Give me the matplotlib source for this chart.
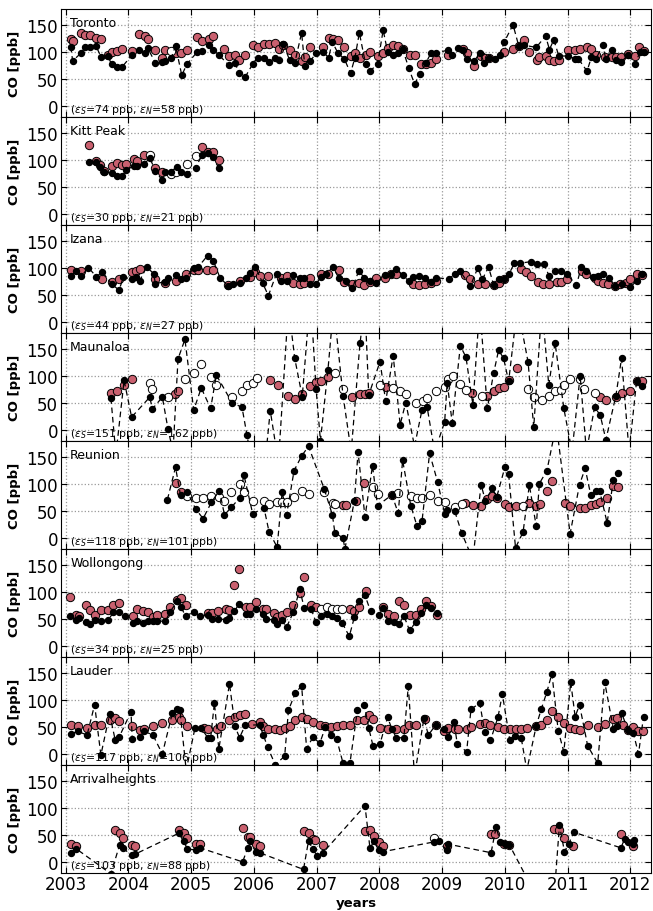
import matplotlib
matplotlib.use('Agg')
import matplotlib.pyplot as plt

plt.rcParams.update({'font.size': 12, 'font.family': 'DejaVu Sans',
                     'xtick.direction': 'in', 'ytick.direction': 'in',
                     'xtick.top': True, 'ytick.right': True,
                     'mathtext.fontset': 'dejavusans'})

# (year, CO ppb)
# black = dashed series, pink = filled circles, white = open circles
toronto_black = [(2003.08, 110), (2003.11, 84), (2003.24, 98), (2003.31, 109), (2003.38, 109), (2003.48, 112),
                 (2003.56, 92), (2003.67, 93), (2003.73, 78), (2003.81, 73), (2003.90, 73), (2004.05, 94),
                 (2004.17, 104), (2004.26, 99), (2004.31, 107), (2004.43, 80), (2004.53, 81), (2004.59, 84),
                 (2004.68, 89), (2004.75, 112), (2004.85, 57), (2004.93, 78), (2005.10, 101), (2005.17, 103),
                 (2005.28, 114), (2005.35, 104), (2005.44, 95), (2005.60, 76), (2005.70, 80), (2005.76, 61),
                 (2005.86, 54), (2005.98, 78), (2006.06, 90), (2006.16, 90), (2006.24, 81), (2006.33, 89),
                 (2006.40, 85), (2006.47, 115), (2006.57, 85), (2006.65, 80), (2006.76, 136), (2006.81, 75),
                 (2006.90, 84), (2006.99, 98), (2007.10, 101), (2007.19, 90), (2007.25, 119), (2007.34, 98),
                 (2007.44, 88), (2007.54, 61), (2007.61, 90), (2007.68, 136), (2007.78, 78), (2007.85, 65),
                 (2007.97, 78), (2008.06, 141), (2008.13, 101), (2008.22, 95), (2008.30, 98), (2008.37, 106),
                 (2008.47, 70), (2008.56, 41), (2008.65, 60), (2008.74, 80), (2008.82, 98), (2008.90, 98),
                 (2009.09, 104), (2009.16, 94), (2009.26, 107), (2009.33, 104), (2009.39, 88), (2009.51, 84),
                 (2009.61, 99), (2009.67, 80), (2009.74, 89), (2009.84, 87), (2009.92, 95), (2009.99, 119),
                 (2010.13, 151), (2010.22, 112), (2010.30, 113), (2010.50, 109), (2010.65, 130), (2010.71, 105),
                 (2010.78, 123), (2010.86, 93), (2011.00, 93), (2011.12, 88), (2011.17, 88), (2011.31, 65),
                 (2011.38, 91), (2011.45, 87), (2011.56, 113), (2011.61, 87), (2011.70, 105), (2011.77, 85),
                 (2011.85, 81), (2011.96, 95), (2012.08, 78), (2012.15, 100), (2012.21, 101)]
toronto_pink = [(2003.08, 124), (2003.12, 121), (2003.24, 135), (2003.31, 132), (2003.38, 132), (2003.48, 127),
                (2003.56, 124), (2003.68, 94), (2003.74, 100), (2003.81, 102), (2003.90, 106), (2004.05, 103),
                (2004.17, 133), (2004.26, 130), (2004.31, 125), (2004.43, 104), (2004.54, 90), (2004.59, 104),
                (2004.75, 98), (2004.84, 99), (2004.93, 105), (2005.10, 128), (2005.17, 120), (2005.28, 124),
                (2005.35, 130), (2005.53, 106), (2005.60, 93), (2005.70, 94), (2005.76, 86), (2005.86, 95),
                (2005.98, 114), (2006.06, 110), (2006.16, 115), (2006.24, 115), (2006.33, 117), (2006.40, 106),
                (2006.47, 114), (2006.57, 104), (2006.65, 95), (2006.76, 83), (2006.81, 92), (2006.90, 110),
                (2007.10, 110), (2007.19, 127), (2007.26, 125), (2007.34, 123), (2007.44, 109), (2007.54, 93),
                (2007.61, 99), (2007.69, 90), (2007.78, 94), (2007.85, 101), (2007.97, 93), (2008.05, 99),
                (2008.13, 108), (2008.22, 113), (2008.30, 111), (2008.37, 106), (2008.48, 94), (2008.56, 94),
                (2008.66, 78), (2008.74, 79), (2008.82, 80), (2008.90, 88), (2009.09, 94), (2009.33, 106),
                (2009.39, 98), (2009.51, 75), (2009.62, 93), (2009.69, 90), (2009.74, 89), (2009.99, 101),
                (2010.13, 106), (2010.22, 112), (2010.30, 122), (2010.38, 101), (2010.51, 86), (2010.54, 91),
                (2010.65, 93), (2010.71, 85), (2010.78, 83), (2010.86, 86), (2011.00, 104), (2011.12, 104),
                (2011.19, 106), (2011.31, 110), (2011.38, 106), (2011.45, 95), (2011.59, 91), (2011.70, 91),
                (2011.77, 91), (2011.85, 92), (2011.96, 96), (2012.07, 93), (2012.14, 110), (2012.21, 103)]
toronto_white = [(2004.68, 103)]

kittpeak_black = [(2003.37, 96), (2003.48, 96), (2003.54, 88), (2003.61, 79), (2003.74, 76), (2003.82, 70),
                  (2003.90, 70), (2003.96, 81), (2004.09, 90), (2004.14, 90), (2004.25, 93), (2004.34, 104),
                  (2004.43, 80), (2004.53, 64), (2004.59, 78), (2004.68, 78), (2004.77, 88), (2004.84, 78),
                  (2004.93, 75), (2005.07, 86), (2005.17, 109), (2005.27, 114), (2005.34, 105), (2005.44, 86)]
kittpeak_pink = [(2003.37, 128), (2003.49, 99), (2003.54, 91), (2003.61, 80), (2003.74, 90), (2003.82, 94),
                 (2003.90, 91), (2003.96, 93), (2004.09, 102), (2004.14, 98), (2004.25, 110), (2004.43, 86),
                 (2004.54, 79), (2005.17, 125), (2005.27, 116), (2005.34, 115), (2005.44, 100)]
kittpeak_white = [(2004.34, 110), (2004.68, 74), (2004.75, 78), (2004.93, 93), (2005.07, 108)]

izana_black = [(2003.08, 85), (2003.17, 95), (2003.25, 85), (2003.36, 101), (2003.49, 84), (2003.58, 93),
               (2003.74, 70), (2003.85, 59), (2003.92, 84), (2004.05, 79), (2004.12, 84), (2004.18, 77),
               (2004.29, 102), (2004.40, 90), (2004.43, 71), (2004.58, 75), (2004.63, 81), (2004.75, 88),
               (2004.84, 80), (2004.91, 82), (2005.05, 101), (2005.11, 102), (2005.26, 123), (2005.35, 114),
               (2005.46, 82), (2005.59, 67), (2005.67, 70), (2005.77, 73), (2005.88, 82), (2005.93, 91),
               (2006.02, 103), (2006.14, 72), (2006.23, 49), (2006.36, 90), (2006.43, 76), (2006.52, 76),
               (2006.62, 87), (2006.73, 82), (2006.80, 82), (2006.89, 70), (2006.99, 70), (2007.07, 84),
               (2007.15, 89), (2007.26, 102), (2007.35, 82), (2007.46, 76), (2007.57, 63), (2007.67, 95),
               (2007.76, 82), (2007.85, 76), (2007.95, 73), (2008.09, 87), (2008.18, 90), (2008.27, 98),
               (2008.37, 87), (2008.47, 76), (2008.54, 84), (2008.63, 85), (2008.73, 82), (2008.82, 75),
               (2008.91, 82), (2009.11, 80), (2009.20, 89), (2009.28, 95), (2009.45, 67), (2009.57, 101),
               (2009.64, 79), (2009.74, 102), (2009.82, 69), (2009.90, 79), (2009.98, 79), (2010.07, 90),
               (2010.15, 109), (2010.24, 109), (2010.41, 112), (2010.51, 107), (2010.62, 107), (2010.71, 85),
               (2010.80, 95), (2010.89, 95), (2010.99, 89), (2011.14, 68), (2011.22, 103), (2011.30, 95),
               (2011.40, 84), (2011.49, 85), (2011.56, 90), (2011.66, 82), (2011.76, 67), (2011.86, 71),
               (2012.00, 65), (2012.10, 76), (2012.19, 89)]
izana_pink = [(2003.08, 96), (2003.25, 95), (2003.58, 79), (2003.74, 74), (2003.85, 79), (2004.05, 93),
              (2004.12, 95), (2004.18, 99), (2004.43, 80), (2004.58, 73), (2004.75, 76), (2004.91, 90),
              (2005.05, 96), (2005.11, 96), (2005.25, 96), (2005.35, 96), (2005.59, 68), (2005.77, 76),
              (2005.93, 84), (2006.02, 93), (2006.09, 85), (2006.23, 85), (2006.43, 82), (2006.52, 85),
              (2006.63, 73), (2006.73, 71), (2006.80, 72), (2006.89, 81), (2007.07, 90), (2007.18, 90),
              (2007.35, 97), (2007.44, 75), (2007.57, 71), (2007.67, 73), (2007.76, 69), (2007.85, 75),
              (2007.95, 81), (2008.09, 82), (2008.18, 89), (2008.27, 90), (2008.54, 70), (2008.63, 69),
              (2008.73, 70), (2008.82, 73), (2008.90, 76), (2009.37, 87), (2009.45, 79), (2009.57, 71),
              (2009.69, 71), (2009.82, 69), (2009.90, 73), (2009.98, 79), (2010.25, 98), (2010.33, 93),
              (2010.41, 85), (2010.53, 74), (2010.61, 70), (2010.70, 70), (2010.83, 75), (2010.89, 75),
              (2010.99, 79), (2011.23, 95), (2011.30, 89), (2011.44, 81), (2011.49, 76), (2011.57, 73),
              (2011.64, 71), (2011.76, 67), (2011.84, 70), (2011.93, 73), (2012.00, 79), (2012.10, 89),
              (2012.18, 87)]
izana_white = []

maunaloa_black = [(2003.72, 59), (2003.80, -45), (2003.93, 92), (2004.05, 24), (2004.34, 61), (2004.38, 39),
                  (2004.54, 61), (2004.63, 2), (2004.71, -40), (2004.79, 132), (2004.90, 168), (2005.04, 37),
                  (2005.16, 78), (2005.31, 40), (2005.40, 102), (2005.65, 51), (2005.81, 42), (2005.89, -10),
                  (2006.10, -150), (2006.26, 36), (2006.39, -60), (2006.55, 230), (2006.65, 133), (2006.77, 62),
                  (2006.90, 250), (2006.99, 77), (2007.06, -20), (2007.18, 112), (2007.27, 230), (2007.42, 64),
                  (2007.55, -40), (2007.69, 161), (2007.77, 230), (2007.83, 65), (2008.01, 127), (2008.10, 53),
                  (2008.22, 138), (2008.33, 10), (2008.42, 51), (2008.56, -30), (2008.68, 38), (2008.76, 43),
                  (2008.88, -40), (2009.04, 15), (2009.08, 88), (2009.16, 14), (2009.29, 156), (2009.38, 135),
                  (2009.49, 47), (2009.60, 230), (2009.72, 40), (2009.82, 105), (2009.90, 148), (2009.98, 133),
                  (2010.06, 90), (2010.20, 230), (2010.37, 126), (2010.46, 5), (2010.59, 230), (2010.70, 83),
                  (2010.80, 162), (2010.94, 40), (2011.07, -40), (2011.20, 101), (2011.30, -40), (2011.43, 42),
                  (2011.52, 28), (2011.61, -18), (2011.77, 64), (2011.86, 133), (2011.98, -40), (2012.10, 91),
                  (2012.19, 81)]
maunaloa_pink = [(2003.72, 69), (2003.81, 73), (2003.93, 84), (2004.05, 95), (2004.74, 66), (2004.79, 73),
                 (2006.26, 92), (2006.39, 83), (2006.55, 63), (2006.65, 58), (2006.77, 67), (2006.90, 81),
                 (2006.99, 89), (2007.07, 91), (2007.18, 98), (2007.56, 62), (2007.69, 67), (2007.77, 67),
                 (2007.83, 69), (2008.10, 79), (2009.47, 69), (2009.72, 64), (2009.82, 72), (2009.90, 78),
                 (2009.98, 80), (2010.06, 92), (2010.19, 115), (2011.52, 61), (2011.61, 56), (2011.77, 61),
                 (2011.86, 69), (2012.00, 73), (2012.10, 91), (2012.19, 91)]
maunaloa_white = [(2004.34, 88), (2004.38, 76), (2004.63, 61), (2004.90, 94), (2005.04, 105), (2005.16, 123),
                  (2005.31, 99), (2005.40, 84), (2005.65, 62), (2005.81, 73), (2005.89, 83), (2005.98, 87),
                  (2006.05, 96), (2007.30, 106), (2007.42, 77), (2008.01, 83), (2008.22, 78), (2008.33, 72),
                  (2008.42, 67), (2008.59, 50), (2008.69, 54), (2008.76, 59), (2008.90, 72), (2009.04, 80),
                  (2009.09, 95), (2009.17, 100), (2009.29, 86), (2009.38, 74), (2009.64, 64), (2010.37, 77),
                  (2010.47, 61), (2010.59, 56), (2010.70, 64), (2010.80, 72), (2010.89, 75), (2010.94, 83),
                  (2011.04, 95), (2011.20, 95), (2011.26, 77), (2011.43, 68)]

reunion_black = [(2004.62, 71), (2004.75, 131), (2004.83, 79), (2004.94, 85), (2005.07, 54), (2005.19, 36),
                 (2005.32, 66), (2005.45, 88), (2005.53, 43), (2005.64, 57), (2005.77, 74), (2005.84, 117),
                 (2005.98, 45), (2006.16, 56), (2006.24, 12), (2006.37, -17), (2006.45, 86), (2006.52, 43),
                 (2006.64, 125), (2006.76, 152), (2006.87, 170), (2007.12, 91), (2007.25, 43), (2007.29, 10),
                 (2007.42, 0), (2007.45, -20), (2007.60, 68), (2007.66, 159), (2007.77, 39), (2007.89, 134),
                 (2007.97, 60), (2008.20, 80), (2008.30, 46), (2008.37, 144), (2008.50, 60), (2008.60, 22),
                 (2008.68, 32), (2008.80, 157), (2008.93, 103), (2009.04, 45), (2009.08, 51), (2009.20, 50),
                 (2009.31, 10), (2009.49, -40), (2009.62, 99), (2009.69, 69), (2009.80, 92), (2009.87, 76),
                 (2010.00, 131), (2010.06, 118), (2010.17, -18), (2010.29, 11), (2010.39, 98), (2010.50, 22),
                 (2010.55, 101), (2010.67, 125), (2010.82, 210), (2011.04, 8), (2011.19, 99), (2011.28, 129),
                 (2011.37, 79), (2011.46, 88), (2011.51, 88), (2011.63, 28), (2011.73, 108), (2011.81, 120)]
reunion_pink = [(2004.75, 102), (2004.83, 86), (2007.42, 62), (2007.47, 62), (2007.63, 68), (2007.75, 102),
                (2008.20, 80), (2009.37, 65), (2009.49, 62), (2009.62, 60), (2009.71, 73), (2009.80, 77),
                (2009.87, 74), (2010.00, 63), (2010.06, 58), (2010.17, 59), (2010.39, 64), (2010.50, 60),
                (2010.56, 63), (2010.67, 88), (2010.75, 105), (2010.96, 65), (2011.04, 60), (2011.19, 55),
                (2011.28, 56), (2011.37, 62), (2011.46, 63), (2011.51, 66), (2011.63, 75), (2011.73, 96),
                (2011.81, 94)]
reunion_white = [(2004.94, 77), (2005.07, 74), (2005.19, 74), (2005.32, 77), (2005.45, 76), (2005.53, 68),
                 (2005.64, 85), (2005.77, 100), (2005.84, 85), (2005.98, 69), (2006.16, 68), (2006.24, 63),
                 (2006.37, 67), (2006.45, 66), (2006.52, 66), (2006.64, 76), (2006.76, 87), (2006.87, 82),
                 (2007.12, 86), (2007.26, 65), (2007.29, 63), (2007.89, 95), (2007.97, 82), (2008.30, 83),
                 (2008.50, 77), (2008.60, 74), (2008.68, 74), (2008.80, 80), (2008.93, 68), (2009.04, 66),
                 (2009.20, 58), (2009.31, 63), (2010.29, 60)]

wollongong_black = [(2003.07, 55), (2003.17, 48), (2003.21, 52), (2003.33, 44), (2003.39, 40), (2003.47, 48),
                    (2003.56, 47), (2003.68, 48), (2003.76, 63), (2003.85, 63), (2003.94, 55), (2004.08, 43),
                    (2004.14, 47), (2004.23, 43), (2004.31, 46), (2004.39, 46), (2004.46, 46), (2004.59, 46),
                    (2004.66, 63), (2004.78, 83), (2004.83, 73), (2004.91, 56), (2005.05, 63), (2005.14, 55),
                    (2005.26, 57), (2005.33, 50), (2005.42, 50), (2005.56, 49), (2005.61, 52), (2005.69, 64),
                    (2005.76, 78), (2005.87, 60), (2005.94, 60), (2006.03, 69), (2006.14, 60), (2006.20, 50),
                    (2006.32, 48), (2006.36, 41), (2006.44, 48), (2006.52, 35), (2006.63, 63), (2006.73, 105),
                    (2006.80, 71), (2006.91, 69), (2006.99, 44), (2007.07, 56), (2007.16, 60), (2007.25, 56),
                    (2007.33, 52), (2007.41, 42), (2007.52, 18), (2007.60, 53), (2007.67, 83), (2007.77, 94),
                    (2007.86, 64), (2007.99, 58), (2008.06, 71), (2008.14, 46), (2008.23, 44), (2008.31, 40),
                    (2008.39, 56), (2008.48, 29), (2008.58, 44), (2008.66, 61), (2008.74, 75), (2008.82, 71),
                    (2008.92, 61)]
wollongong_pink = [(2003.07, 91), (2003.17, 57), (2003.21, 56), (2003.33, 76), (2003.39, 66), (2003.47, 57),
                   (2003.56, 66), (2003.68, 66), (2003.76, 76), (2003.85, 79), (2004.08, 56), (2004.14, 69),
                   (2004.23, 64), (2004.31, 63), (2004.39, 54), (2004.46, 58), (2004.59, 60), (2004.66, 72),
                   (2004.78, 85), (2004.83, 88), (2004.91, 76), (2005.26, 61), (2005.33, 61), (2005.42, 64),
                   (2005.56, 69), (2005.61, 66), (2005.69, 113), (2005.76, 142), (2005.87, 73), (2005.94, 72),
                   (2006.03, 81), (2006.14, 69), (2006.20, 68), (2006.32, 61), (2006.36, 54), (2006.44, 58),
                   (2006.52, 63), (2006.63, 76), (2006.73, 99), (2006.80, 128), (2006.91, 76), (2006.99, 72),
                   (2007.53, 69), (2007.60, 65), (2007.67, 72), (2007.79, 102), (2008.06, 72), (2008.14, 60),
                   (2008.23, 56), (2008.31, 84), (2008.39, 76), (2008.48, 58), (2008.58, 57), (2008.66, 68),
                   (2008.74, 84), (2008.82, 74), (2008.92, 57)]
wollongong_white = [(2007.07, 69), (2007.16, 72), (2007.25, 69), (2007.33, 69), (2007.41, 69)]

lauder_black = [(2003.08, 37), (2003.19, 42), (2003.34, 35), (2003.46, 91), (2003.56, -2), (2003.70, 74),
                (2003.79, 25), (2003.85, 31), (2004.04, 78), (2004.06, 28), (2004.18, 32), (2004.25, 42),
                (2004.39, 35), (2004.54, 0), (2004.70, 76), (2004.78, 84), (2004.82, 81), (2004.92, -30),
                (2005.06, 48), (2005.16, 48), (2005.27, 29), (2005.31, 30), (2005.37, 95), (2005.44, 9),
                (2005.61, 130), (2005.70, 51), (2005.77, 30), (2005.86, 53), (2006.09, 54), (2006.15, 35),
                (2006.22, 12), (2006.34, -20), (2006.49, -4), (2006.55, 81), (2006.66, 113), (2006.76, 126),
                (2006.84, 10), (2006.94, 31), (2007.05, 20), (2007.14, 50), (2007.23, 35), (2007.32, 27),
                (2007.42, -17), (2007.53, -17), (2007.65, 81), (2007.76, 91), (2007.83, 48), (2007.90, 14),
                (2008.01, 19), (2008.13, 68), (2008.20, 46), (2008.27, 30), (2008.39, 30), (2008.46, 125),
                (2008.56, -40), (2008.71, 66), (2008.78, 35), (2008.90, 54), (2009.03, 46), (2009.10, 32),
                (2009.19, 60), (2009.24, 19), (2009.39, 4), (2009.46, 83), (2009.60, 94), (2009.68, 40),
                (2009.77, 25), (2009.89, 68), (2009.96, 111), (2010.08, 25), (2010.16, 34), (2010.26, 30),
                (2010.35, -30), (2010.50, 52), (2010.58, 83), (2010.67, 115), (2010.75, 149), (2010.85, 43),
                (2010.94, 4), (2011.05, 133), (2011.12, 69), (2011.19, 91), (2011.32, 15), (2011.48, -17),
                (2011.59, 134), (2011.73, 46), (2011.79, 51), (2011.86, 76), (2011.96, 45), (2012.05, 38),
                (2012.13, 0), (2012.21, 69)]
lauder_pink = [(2003.08, 53), (2003.19, 51), (2003.34, 48), (2003.46, 54), (2003.56, 54), (2003.70, 63),
               (2003.79, 67), (2003.85, 61), (2004.05, 52), (2004.18, 45), (2004.25, 47), (2004.39, 51),
               (2004.54, 57), (2004.70, 62), (2004.80, 69), (2004.84, 63), (2004.94, 52), (2005.20, 48),
               (2005.27, 46), (2005.41, 46), (2005.47, 51), (2005.61, 63), (2005.70, 69), (2005.77, 73),
               (2005.86, 74), (2005.97, 56), (2006.09, 59), (2006.15, 51), (2006.22, 46), (2006.34, 46),
               (2006.42, 45), (2006.49, 48), (2006.57, 51), (2006.66, 63), (2006.76, 69), (2006.84, 64),
               (2006.94, 59), (2007.05, 53), (2007.14, 51), (2007.23, 49), (2007.32, 51), (2007.42, 53),
               (2007.53, 53), (2007.65, 63), (2007.76, 63), (2007.83, 73), (2007.90, 64), (2008.01, 48),
               (2008.13, 47), (2008.27, 46), (2008.39, 47), (2008.47, 53), (2008.59, 54), (2008.73, 65),
               (2008.90, 53), (2009.03, 43), (2009.10, 48), (2009.20, 46), (2009.26, 46), (2009.39, 46),
               (2009.46, 49), (2009.60, 56), (2009.68, 57), (2009.77, 54), (2009.89, 49), (2009.98, 46),
               (2010.08, 46), (2010.17, 46), (2010.26, 46), (2010.35, 48), (2010.50, 51), (2010.58, 53),
               (2010.67, 63), (2010.75, 79), (2010.85, 68), (2010.94, 57), (2011.04, 48), (2011.12, 46),
               (2011.19, 45), (2011.32, 53), (2011.48, 50), (2011.59, 55), (2011.73, 65), (2011.79, 66),
               (2011.88, 54), (2011.96, 45), (2012.05, 50), (2012.12, 43), (2012.20, 42)]
lauder_white = []

arrival_black = [(2003.08, 17), (2003.17, 24), (2003.72, -22), (2003.86, 32), (2003.92, 25), (2004.05, 12),
                 (2004.10, 14), (2004.80, 53), (2004.88, 38), (2004.94, 24), (2005.08, 22), (2005.14, 26),
                 (2005.82, 0), (2005.90, 26), (2005.93, 38), (2006.03, 19), (2006.09, 17), (2006.79, -14),
                 (2006.87, 39), (2006.94, 23), (2007.01, 11), (2007.10, 17), (2007.77, 104), (2007.85, 25),
                 (2007.91, 38), (2007.99, 22), (2008.06, 19), (2008.87, 37), (2008.95, 38), (2009.07, 22),
                 (2009.09, 33), (2009.78, 17), (2009.86, 64), (2009.93, 37), (2010.00, 34), (2010.07, 32),
                 (2010.75, -118), (2010.87, 68), (2010.95, 19), (2011.02, 34), (2011.10, 55), (2011.85, 26),
                 (2011.91, 43), (2011.97, 37), (2012.05, 34), (2012.06, 41)]
arrival_pink = [(2003.08, 33), (2003.17, 30), (2003.79, 59), (2003.86, 54), (2003.92, 45), (2004.06, 31),
                (2004.10, 30), (2004.80, 59), (2004.88, 53), (2004.94, 45), (2005.08, 34), (2005.14, 33),
                (2005.82, 63), (2005.90, 47), (2005.93, 46), (2006.03, 34), (2006.09, 29), (2006.79, 58),
                (2006.87, 53), (2006.94, 42), (2006.98, 40), (2007.10, 32), (2007.77, 57), (2007.85, 59),
                (2007.91, 48), (2008.00, 37), (2008.06, 29), (2009.07, 29), (2009.78, 51), (2009.85, 51),
                (2009.98, 33), (2010.06, 31), (2010.79, 61), (2010.87, 59), (2010.95, 45), (2011.08, 30),
                (2011.85, 51), (2012.05, 29)]
arrival_white = [(2008.87, 45)]

station_names = ['Toronto', 'Kitt Peak', 'Izana', 'Maunaloa', 'Reunion', 'Wollongong', 'Lauder', 'Arrivalheights']
err_s = [74, 30, 44, 151, 118, 34, 117, 103]
err_n = [58, 21, 27, 162, 101, 25, 106, 88]
year_ticks = list(range(2003, 2013))

black_sets = [toronto_black, kittpeak_black, izana_black, maunaloa_black,
              reunion_black, wollongong_black, lauder_black, arrival_black]
pink_sets = [toronto_pink, kittpeak_pink, izana_pink, maunaloa_pink,
             reunion_pink, wollongong_pink, lauder_pink, arrival_pink]
white_sets = [toronto_white, kittpeak_white, izana_white, maunaloa_white,
              reunion_white, wollongong_white, lauder_white, arrival_white]

pink = '#c9606f'

fig, axes = plt.subplots(8, 1, sharex=True, figsize=(6.53, 9.12), dpi=100)
fig.subplots_adjust(left=0.093, right=0.997, top=0.989, bottom=0.042, hspace=0)

for i, ax in enumerate(axes):
    if pink_sets[i]:
        t, v = zip(*pink_sets[i])
        ax.plot(t, v, 'o', ms=6, mfc=pink, mec='k', mew=0.7, zorder=3)
    if white_sets[i]:
        t, v = zip(*white_sets[i])
        ax.plot(t, v, 'o', ms=6, mfc='white', mec='k', mew=0.7, zorder=3)
    t, v = zip(*black_sets[i])
    ax.plot(t, v, color='k', ls='--', dashes=(4.5, 3), lw=0.9,
            marker='o', ms=4.3, mfc='k', mec='k', zorder=4)

    ax.set_xlim(2002.92, 2012.33)
    ax.set_ylim(-20, 180)
    ax.set_yticks([0, 50, 100, 150])
    ax.set_xticks(year_ticks)
    ax.grid(True, ls=':', color='0.6', lw=0.9)
    ax.tick_params(length=4, pad=2)
    ax.set_ylabel('CO [ppb]', fontsize=9.5, fontweight='bold')
    ax.text(0.016, 0.84, station_names[i], transform=ax.transAxes, fontsize=9)
    ax.text(0.015, 0.01, r'($\epsilon_S$=%d ppb, $\epsilon_N$=%d ppb)' % (err_s[i], err_n[i]),
            transform=ax.transAxes, fontsize=7.8, va='bottom')

axes[-1].set_xticklabels([str(y) for y in year_ticks])
axes[-1].set_xlabel('years', fontsize=9.5, fontweight='bold', labelpad=2)

plt.savefig('out.png', dpi=100)
